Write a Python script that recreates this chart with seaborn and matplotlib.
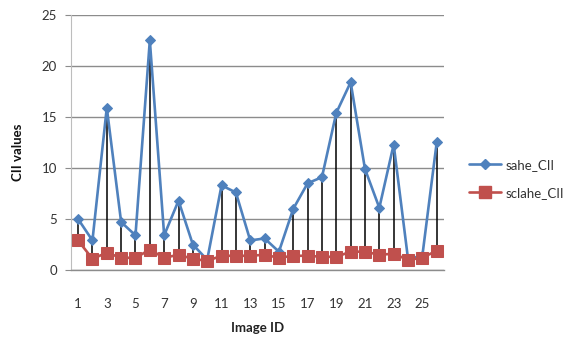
import matplotlib
matplotlib.use("Agg")
import matplotlib.pyplot as plt
import seaborn as sns
import pandas as pd
from matplotlib.lines import Line2D

image_id = list(range(1, 27))
sahe_cii = [5.0, 2.9, 15.9, 4.7, 3.4, 22.5, 3.4, 6.8, 2.5, 1.0,
            8.3, 7.6, 2.9, 3.1, 1.8, 6.0, 8.5, 9.1, 15.4, 18.4,
            9.9, 6.1, 12.3, 1.1, 1.4, 12.5]
sclahe_cii = [2.9, 1.1, 1.7, 1.2, 1.2, 2.0, 1.2, 1.5, 1.1, 0.9,
              1.4, 1.4, 1.4, 1.5, 1.2, 1.4, 1.4, 1.3, 1.3, 1.8,
              1.8, 1.5, 1.6, 1.0, 1.2, 1.9]
x_ticks = list(range(1, 27, 2))

df = pd.DataFrame({"id": image_id, "sahe_CII": sahe_cii, "sclahe_CII": sclahe_cii})

sns.set_theme(style="white")
plt.rcParams['font.family'] = ['Lato', 'DejaVu Sans']

fig = plt.figure(figsize=(5.72, 3.38), dpi=100)
ax = fig.add_axes([0.124, 0.201, 0.652, 0.755])

blue = "#4F81BD"
red = "#C0504D"

# high-low lines
ax.vlines(df["id"], df["sclahe_CII"], df["sahe_CII"], color="black", lw=1.1, zorder=2)

sns.lineplot(data=df, x="id", y="sahe_CII", ax=ax, color=blue, lw=1.9,
             marker="D", markersize=5.5, markeredgecolor=blue, zorder=3)
sns.lineplot(data=df, x="id", y="sclahe_CII", ax=ax, color=red, lw=1.9,
             marker="s", markersize=8, markeredgecolor=red, zorder=4)

ax.set_xlim(0.5, 26.5)
ax.set_ylim(0, 25)
ax.set_yticks([0, 5, 10, 15, 20, 25])
ax.set_xticks(x_ticks)
ax.yaxis.grid(True, color="#8c8c8c", lw=1.0)
ax.set_axisbelow(True)
for s in ["top", "right"]:
    ax.spines[s].set_visible(False)
ax.spines["left"].set_color("#bdbdbd")
ax.spines["left"].set_linewidth(0.8)
ax.spines["bottom"].set_color("#8c8c8c")
ax.spines["bottom"].set_linewidth(1.0)
ax.tick_params(axis="y", left=True, length=4, width=0.8, color="#8c8c8c",
               labelsize=9.5, labelcolor="#333333", pad=6)
ax.tick_params(axis="x", bottom=False, labelsize=9.5, labelcolor="#333333", pad=14)

ax.set_xlabel("Image ID", fontsize=9.5, fontweight="bold", labelpad=9, color="#222222")
ax.set_ylabel("CII values", fontsize=9.5, fontweight="bold", color="#111111")
ax.yaxis.set_label_coords(-0.125, 0.46)

handles = [Line2D([], [], color=blue, lw=1.9, marker="D", markersize=5.5),
           Line2D([], [], color=red, lw=1.9, marker="s", markersize=8)]
fig.legend(handles, ["sahe_CII", "sclahe_CII"], loc="upper left",
           bbox_to_anchor=(0.800, 0.565), frameon=False, fontsize=9.5,
           handlelength=2.4, handletextpad=0.3, labelspacing=1.2,
           labelcolor="#333333")

fig.savefig("out.png", dpi=100)
